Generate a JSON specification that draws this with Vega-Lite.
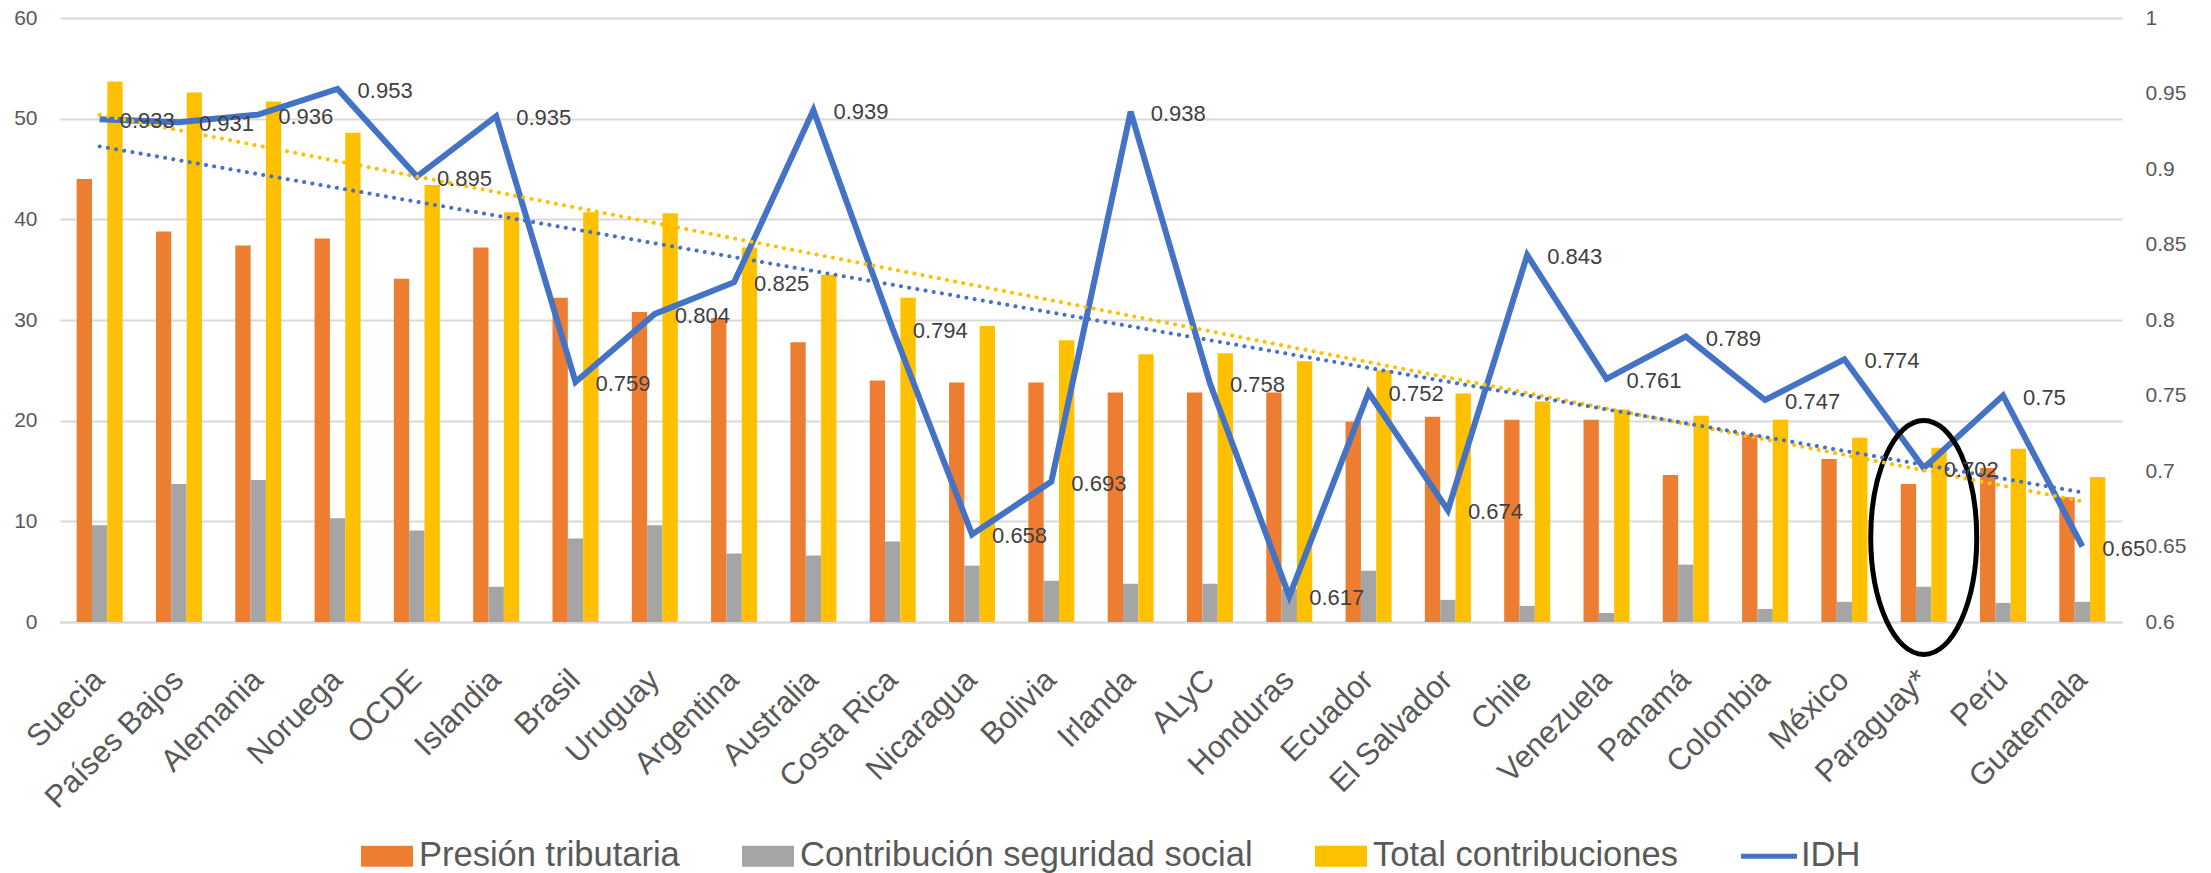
{
  "$schema": "https://vega.github.io/schema/vega-lite/v6.json",
  "width": 2062,
  "height": 604,
  "autosize": {"type": "none"},
  "padding": {"left": 60, "top": 18, "right": 89, "bottom": 251},
  "background": "white",
  "config": {
    "view": {"stroke": null},
    "font": "Liberation Sans"
  },
  "data": {
    "values": [
      {"n": 1, "País": "Suecia", "Presión tributaria": 44.0, "Contribución seguridad social": 9.6, "Total contribuciones": 53.7, "IDH": 0.933},
      {"n": 2, "País": "Países Bajos", "Presión tributaria": 38.8, "Contribución seguridad social": 13.7, "Total contribuciones": 52.6, "IDH": 0.931},
      {"n": 3, "País": "Alemania", "Presión tributaria": 37.4, "Contribución seguridad social": 14.1, "Total contribuciones": 51.7, "IDH": 0.936},
      {"n": 4, "País": "Noruega", "Presión tributaria": 38.1, "Contribución seguridad social": 10.3, "Total contribuciones": 48.6, "IDH": 0.953},
      {"n": 5, "País": "OCDE", "Presión tributaria": 34.1, "Contribución seguridad social": 9.1, "Total contribuciones": 43.4, "IDH": 0.895},
      {"n": 6, "País": "Islandia", "Presión tributaria": 37.2, "Contribución seguridad social": 3.5, "Total contribuciones": 40.7, "IDH": 0.935},
      {"n": 7, "País": "Brasil", "Presión tributaria": 32.2, "Contribución seguridad social": 8.3, "Total contribuciones": 40.7, "IDH": 0.759},
      {"n": 8, "País": "Uruguay", "Presión tributaria": 30.8, "Contribución seguridad social": 9.6, "Total contribuciones": 40.6, "IDH": 0.804},
      {"n": 9, "País": "Argentina", "Presión tributaria": 30.2, "Contribución seguridad social": 6.8, "Total contribuciones": 37.2, "IDH": 0.825},
      {"n": 10, "País": "Australia", "Presión tributaria": 27.8, "Contribución seguridad social": 6.6, "Total contribuciones": 34.5, "IDH": 0.939},
      {"n": 11, "País": "Costa Rica", "Presión tributaria": 24.0, "Contribución seguridad social": 8.0, "Total contribuciones": 32.2, "IDH": 0.794},
      {"n": 12, "País": "Nicaragua", "Presión tributaria": 23.8, "Contribución seguridad social": 5.6, "Total contribuciones": 29.4, "IDH": 0.658},
      {"n": 13, "País": "Bolivia", "Presión tributaria": 23.8, "Contribución seguridad social": 4.1, "Total contribuciones": 28.0, "IDH": 0.693},
      {"n": 14, "País": "Irlanda", "Presión tributaria": 22.8, "Contribución seguridad social": 3.8, "Total contribuciones": 26.6, "IDH": 0.938},
      {"n": 15, "País": "ALyC", "Presión tributaria": 22.8, "Contribución seguridad social": 3.8, "Total contribuciones": 26.7, "IDH": 0.758},
      {"n": 16, "País": "Honduras", "Presión tributaria": 22.8, "Contribución seguridad social": 3.3, "Total contribuciones": 25.9, "IDH": 0.617},
      {"n": 17, "País": "Ecuador", "Presión tributaria": 19.9, "Contribución seguridad social": 5.1, "Total contribuciones": 25.0, "IDH": 0.752},
      {"n": 18, "País": "El Salvador", "Presión tributaria": 20.4, "Contribución seguridad social": 2.2, "Total contribuciones": 22.7, "IDH": 0.674},
      {"n": 19, "País": "Chile", "Presión tributaria": 20.1, "Contribución seguridad social": 1.6, "Total contribuciones": 21.9, "IDH": 0.843},
      {"n": 20, "País": "Venezuela", "Presión tributaria": 20.1, "Contribución seguridad social": 0.9, "Total contribuciones": 21.1, "IDH": 0.761},
      {"n": 21, "País": "Panamá", "Presión tributaria": 14.6, "Contribución seguridad social": 5.7, "Total contribuciones": 20.5, "IDH": 0.789},
      {"n": 22, "País": "Colombia", "Presión tributaria": 18.6, "Contribución seguridad social": 1.3, "Total contribuciones": 20.1, "IDH": 0.747},
      {"n": 23, "País": "México", "Presión tributaria": 16.2, "Contribución seguridad social": 2.0, "Total contribuciones": 18.3, "IDH": 0.774},
      {"n": 24, "País": "Paraguay*", "Presión tributaria": 13.7, "Contribución seguridad social": 3.5, "Total contribuciones": 17.3, "IDH": 0.702},
      {"n": 25, "País": "Perú", "Presión tributaria": 15.3, "Contribución seguridad social": 1.9, "Total contribuciones": 17.2, "IDH": 0.75},
      {"n": 26, "País": "Guatemala", "Presión tributaria": 12.4, "Contribución seguridad social": 2.0, "Total contribuciones": 14.4, "IDH": 0.65}
    ]
  },
  "layer": [
    {
      "layer": [
        {
          "transform": [
            {"fold": ["Presión tributaria", "Contribución seguridad social", "Total contribuciones"], "as": ["serie", "valor"]}
          ],
          "mark": {"type": "bar"},
          "encoding": {
            "x": {
              "field": "País", "type": "nominal", "sort": null,
              "scale": {"paddingInner": 0.42, "paddingOuter": 0.21},
              "axis": {
                "title": null, "labelAngle": -45, "labelAlign": "right", "labelBaseline": "middle",
                "labelFontSize": 31, "labelColor": "#595959", "labelPadding": 53, "labelOffset": 0,
                "labelLimit": 0, "labelOverlap": false,
                "ticks": false, "domain": true, "domainColor": "#D9D9D9", "domainWidth": 2, "grid": false
              }
            },
            "xOffset": {
              "field": "serie", "type": "nominal",
              "sort": ["Presión tributaria", "Contribución seguridad social", "Total contribuciones"],
              "scale": {"paddingInner": 0, "paddingOuter": 0}
            },
            "y": {
              "field": "valor", "type": "quantitative",
              "scale": {"domain": [0, 60], "nice": false},
              "axis": {
                "title": null, "orient": "left", "values": [0, 10, 20, 30, 40, 50, 60],
                "grid": true, "gridColor": "#D9D9D9", "gridWidth": 2,
                "domain": false, "ticks": false, "labelPadding": 23,
                "labelFontSize": 21, "labelColor": "#595959"
              }
            },
            "color": {
              "field": "serie", "type": "nominal",
              "scale": {
                "domain": ["Presión tributaria", "Contribución seguridad social", "Total contribuciones", "IDH"],
                "range": ["#ED7D31", "#A5A5A5", "#FFC000", "#4472C4"]
              },
              "legend": {
                "title": null, "orient": "none", "legendX": 301, "legendY": 812,
                "direction": "horizontal", "symbolType": "square", "symbolSize": 2704,
                "symbolStrokeWidth": 0, "symbolOpacity": 1,
                "labelFontSize": 34.5, "labelColor": "#595959", "labelOffset": 6, "labelLimit": 0,
                "columnPadding": 62, "padding": 0,
                "encode": {
                  "symbols": {
                    "update": {
                      "shape": {"signal": "datum.value === 'IDH' ? 'M-1.077,-0.1H1.077V0.1H-1.077Z' : 'M-1,-0.4H1V0.4H-1Z'"}
                    }
                  }
                }
              }
            }
          }
        },
        {
          "mark": {"type": "line", "color": "#4472C4", "strokeWidth": 6, "strokeJoin": "miter"},
          "encoding": {
            "x": {"field": "País", "type": "nominal", "sort": null, "bandPosition": 0.5},
            "y": {
              "field": "IDH", "type": "quantitative",
              "scale": {"domain": [0.6, 1], "nice": false, "zero": false},
              "axis": {
                "title": null, "orient": "right", "values": [0.6, 0.65, 0.7, 0.75, 0.8, 0.85, 0.9, 0.95, 1],
                "format": "~g", "grid": false, "domain": false, "ticks": false,
                "labelPadding": 23, "labelFontSize": 21, "labelColor": "#595959"
              }
            }
          }
        },
        {
          "transform": [{"filter": "datum['País'] === 'Paraguay*'"}],
          "mark": {
            "type": "point",
            "shape": "M0,-1A0.453,1,0,1,1,0,1A0.453,1,0,1,1,0,-1Z",
            "size": 54756, "filled": false, "stroke": "#000000", "strokeWidth": 5, "opacity": 1
          },
          "encoding": {
            "x": {"field": "País", "type": "nominal", "sort": null},
            "y": {"datum": 8.4, "type": "quantitative", "scale": {"domain": [0, 60], "nice": false}, "axis": null}
          }
        }
      ],
      "resolve": {"scale": {"y": "independent"}}
    },
    {
      "transform": [{"regression": "Total contribuciones", "on": "n"}],
      "mark": {"type": "line", "color": "#FFC000", "strokeWidth": 4, "strokeDash": [0.1, 8.2], "strokeCap": "round"},
      "encoding": {
        "x": {"field": "n", "type": "quantitative", "scale": {"domain": [0.5, 26.5], "nice": false, "zero": false}, "axis": null},
        "y": {"field": "Total contribuciones", "type": "quantitative", "scale": {"domain": [0, 60], "nice": false}, "axis": null}
      }
    },
    {
      "transform": [{"regression": "IDH", "on": "n"}],
      "mark": {"type": "line", "color": "#4472C4", "strokeWidth": 4, "strokeDash": [0.1, 8.2], "strokeCap": "round"},
      "encoding": {
        "x": {"field": "n", "type": "quantitative", "scale": {"domain": [0.5, 26.5], "nice": false, "zero": false}, "axis": null},
        "y": {"field": "IDH", "type": "quantitative", "scale": {"domain": [0.6, 1], "nice": false, "zero": false}, "axis": null}
      }
    },
    {
      "mark": {"type": "text", "align": "left", "baseline": "middle", "dx": 20, "dy": 2, "fontSize": 22, "color": "#404040"},
      "encoding": {
        "x": {"field": "País", "type": "nominal", "sort": null, "bandPosition": 0.5, "scale": {"paddingInner": 0.42, "paddingOuter": 0.21}, "axis": null},
        "y": {"field": "IDH", "type": "quantitative", "scale": {"domain": [0.6, 1], "nice": false, "zero": false}, "axis": null},
        "text": {"field": "IDH", "type": "quantitative"}
      }
    }
  ],
  "resolve": {"scale": {"x": "independent", "y": "independent"}}
}
